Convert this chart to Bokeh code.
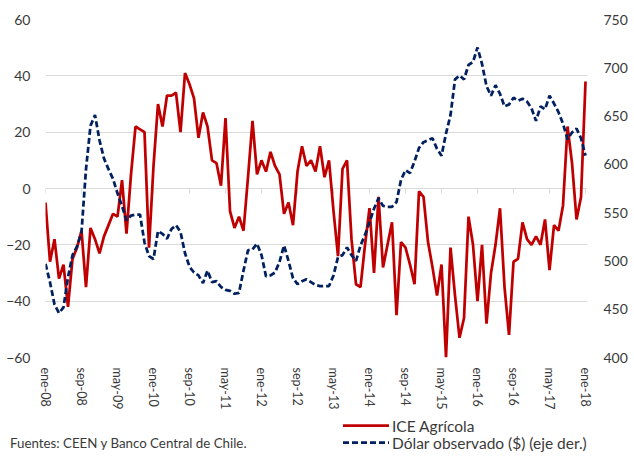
from bokeh.plotting import figure
from bokeh.layouts import column
from bokeh.models import Range1d, LinearAxis, FixedTicker, ColumnDataSource, Div
from bokeh.embed import file_html
from bokeh.resources import INLINE

# Monthly data, ene-08 (index 0) .. ene-18 (index 120)
ice_agricola = [
    -5, -26, -18, -32, -27, -42, -25, -21, -15, -35,
    -14, -18, -23, -17, -13, -9, -10, 3, -16, 5,
    22, 21, 20, -21, 8, 30, 22, 33, 33, 34,
    20, 41, 37, 32, 18, 27, 22, 10, 9, 1,
    25, -8, -14, -10, -15, 4, 24, 5, 10, 6,
    13, 8, 5, -9, -5, -13, 6, 15, 8, 10,
    6, 15, 4, 10, -8, -24, 7, 10, -18, -34,
    -35, -20, -7, -30, -3, -28, -20, -12, -45, -19,
    -21, -27, -34, -1, -3, -19, -28, -38, -27, -60,
    -21, -38, -53, -46, -10, -20, -40, -20, -48, -30,
    -20, -7, -35, -52, -26, -25, -12, -18, -20, -17,
    -20, -11, -29, -13, -15, -6, 22, 9, -11, -3,
    38,
]
dolar_observado = [
    497, 478, 455, 446, 452, 483, 506, 515, 530, 595,
    640, 651, 625, 606, 595, 585, 570, 557, 542, 547,
    548, 548, 519, 505, 502, 531, 528, 523, 533, 537,
    530, 508, 494, 488, 485, 477, 490, 478, 479, 473,
    470, 469, 466, 467, 490, 511, 512, 518, 506, 484,
    485, 488, 499, 516, 500, 482, 476, 479, 481, 478,
    475, 474, 474, 474, 485, 504, 506, 514, 506, 500,
    516, 527, 540, 554, 565, 557, 556, 556, 561, 584,
    594, 591, 603, 617, 623, 625, 627, 616, 609, 632,
    651, 688, 692, 688, 703, 706, 721, 704, 681, 671,
    682, 673, 660, 662, 669, 666, 668, 665, 658, 645,
    660, 657, 671, 663, 654, 642, 626, 633, 637, 627,
    609,
]
month_index = list(range(len(ice_agricola)))
tick_positions = [0, 8, 16, 24, 32, 40, 48, 56, 64, 72, 80, 88, 96, 104, 112, 120]
tick_labels = ["ene-08", "sep-08", "may-09", "ene-10", "sep-10", "may-11", "ene-12", "sep-12",
               "may-13", "ene-14", "sep-14", "may-15", "ene-16", "sep-16", "may-17", "ene-18"]
left_ticks = [-60, -40, -20, 0, 20, 40, 60]
right_ticks = [400, 450, 500, 550, 600, 650, 700, 750]
series_names = ["ICE Agrícola", "Dólar observado ($) (eje der.)"]
source_note = "Fuentes: CEEN y Banco Central de Chile."

FONT = "Lato"
TXT = "#3a3a3a"
GRID = "#D9D9D9"
RED = "#C00000"
NAVY = "#002060"

src = ColumnDataSource(dict(x=month_index, ice=ice_agricola, dolar=dolar_observado))

p = figure(width=634, height=412, output_backend="svg", toolbar_location=None,
           x_range=Range1d(0, 120.44), y_range=Range1d(-60, 60),
           min_border_left=45, min_border_right=47, min_border_top=19, min_border_bottom=55)
p.outline_line_color = None
p.extra_y_ranges = {"dolar": Range1d(400, 750)}

p.xgrid.visible = False
p.ygrid.ticker = FixedTicker(ticks=left_ticks)
p.ygrid.grid_line_color = GRID
p.ygrid.grid_line_width = 1

ya = p.yaxis[0]
ya.ticker = FixedTicker(ticks=left_ticks)
ya.axis_line_color = None
ya.major_tick_line_color = None
ya.minor_tick_line_color = None
ya.major_tick_out = 0
ya.major_label_standoff = 15
ya.major_label_text_font = FONT
ya.major_label_text_font_size = "14px"
ya.major_label_text_color = TXT

ra = LinearAxis(y_range_name="dolar", ticker=FixedTicker(ticks=right_ticks))
ra.axis_line_color = None
ra.major_tick_line_color = None
ra.minor_tick_line_color = None
ra.major_tick_out = 0
ra.major_label_standoff = 16
ra.major_label_text_font = FONT
ra.major_label_text_font_size = "14px"
ra.major_label_text_color = TXT
p.add_layout(ra, "right")

xa = p.xaxis[0]
xa.ticker = FixedTicker(ticks=tick_positions)
xa.major_label_overrides = {t: l for t, l in zip(tick_positions, tick_labels)}
xa.major_label_orientation = "vertical"
xa.axis_line_color = None
xa.major_tick_line_color = None
xa.minor_tick_line_color = None
xa.major_tick_out = 0
xa.major_tick_in = 0
xa.major_label_standoff = 10
xa.major_label_text_font = FONT
xa.major_label_text_font_size = "12.5px"
xa.major_label_text_color = TXT

# small category tick marks on the zero line
p.segment(x0=tick_positions, y0=[0] * len(tick_positions), x1=tick_positions,
          y1=[-1.8] * len(tick_positions), line_color=GRID, line_width=1)

p.line("x", "ice", source=src, line_color=RED, line_width=2.75)
p.line("x", "dolar", source=src, y_range_name="dolar", line_color=NAVY,
       line_width=2.75, line_dash="6 3")

# footer: legend and source note
def txt_style(size):
    return f'style="font-family:{FONT};font-size:{size};fill:{TXT};dominant-baseline:central"'

footer_svg = (
    '<svg xmlns="http://www.w3.org/2000/svg" width="634" height="47" style="display:block">'
    f'<line x1="343" y1="13.7" x2="389" y2="13.7" stroke="{RED}" stroke-width="2.75"/>'
    f'<text x="392" y="13.7" {txt_style("15.5px")}>{series_names[0]}</text>'
    f'<line x1="343" y1="30.7" x2="389" y2="30.7" stroke="{NAVY}" stroke-width="2.75" stroke-dasharray="6 3"/>'
    f'<text x="392" y="30.7" {txt_style("15.5px")}>{series_names[1]}</text>'
    f'<text x="10" y="31" {txt_style("13.3px")}>{source_note}</text>'
    '</svg>'
)
footer = Div(text=footer_svg, width=634, height=47, margin=0, disable_math=True)

layout = column(p, footer, spacing=0)
open("out.html", "w").write(file_html(layout, INLINE))
